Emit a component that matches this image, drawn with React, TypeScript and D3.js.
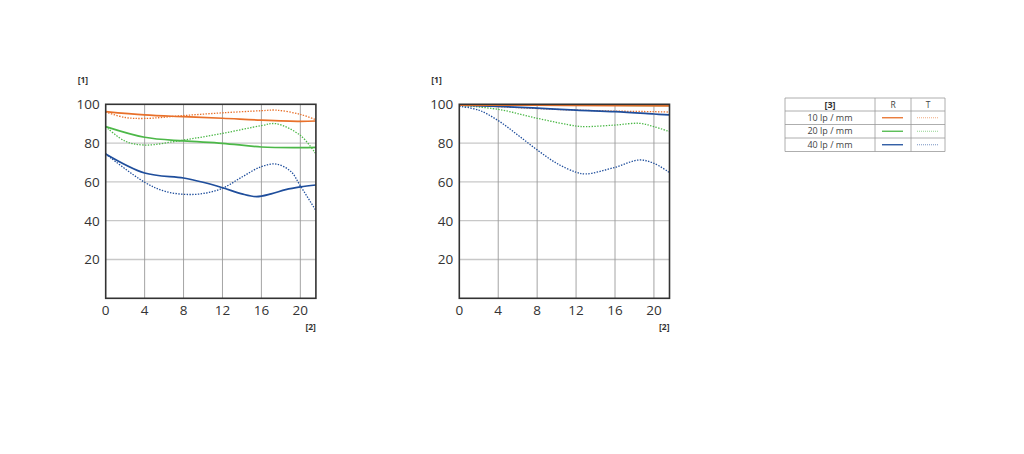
import React from 'react';
import * as d3 from 'd3';

type Pt = [number, number];

// left chart (wide open)
const leftR10: Pt[] = [[0, 96.2], [4, 94.5], [8, 93.6], [12, 92.8], [16, 91.8], [20, 91.2], [21.6, 91.4]];
const leftT10: Pt[] = [[0, 96], [2, 93.2], [4, 92.7], [8, 94.2], [12, 95.6], [16, 96.7], [17.5, 97], [20, 94.8], [21.6, 92]];
const leftR20: Pt[] = [[0, 88.5], [4, 83], [8, 81.1], [12, 79.9], [16, 78], [20, 77.7], [21.6, 77.8]];
const leftT20: Pt[] = [[0, 88.5], [2, 81], [4, 79], [8, 81.6], [12, 85], [16, 89], [17.5, 90], [20, 84], [21.6, 74.4]];
const leftR40: Pt[] = [[0, 74.4], [4, 64.6], [8, 62], [10, 59.8], [12, 57], [14, 53.8], [15.5, 52.4], [17, 53.8], [18.5, 56], [20, 57.4], [21.6, 58.4]];
const leftT40: Pt[] = [[0, 74.4], [4, 59.8], [6, 55.3], [8, 53.6], [10, 54], [12, 56.7], [14, 62.5], [16, 67.9], [17.5, 69.2], [19, 65.5], [20, 58], [21.6, 45.2]];

// right chart (stopped down)
const rightR10: Pt[] = [[0, 99.6], [8, 99.5], [16, 99.3], [21.6, 99.2]];
const rightT10: Pt[] = [[0, 99.5], [4, 98.8], [8, 97.8], [12, 97], [16, 96.5], [20, 96.2], [21.6, 96]];
const rightR20: Pt[] = [[0, 99.7], [8, 99.6], [16, 99.5], [21.6, 99.4]];
const rightT20: Pt[] = [[0, 99.5], [4, 97.4], [8, 92.8], [12, 88.8], [13, 88.5], [16, 89.3], [18.5, 90.2], [20, 88.5], [21.6, 85.9]];
const rightR40: Pt[] = [[0, 99.5], [4, 98.9], [8, 98], [12, 97], [16, 96.2], [20, 95], [21.6, 94.5]];
const rightT40: Pt[] = [[0, 99], [2, 97], [4, 91.6], [6, 84.2], [8, 76.5], [10, 69.6], [12, 65], [13, 64.1], [16, 67.5], [18.5, 71.3], [20, 69.6], [21.6, 64.8]];

const xTicks = [0, 4, 8, 12, 16, 20];
const yTicks = [20, 40, 60, 80, 100];
const legendRows = ['10 lp / mm', '20 lp / mm', '40 lp / mm'];

const ORANGE = '#e8702a';
const GREEN = '#4cb848';
const BLUE = '#1f4e9c';
const colors = [ORANGE, GREEN, BLUE];
const FONT = '"Open Sans", "DejaVu Sans", sans-serif';

// series given as [R10, T10, R20, T20, R40, T40]; dotted (T) drawn first, solids on top
const drawOrder = [5, 3, 1, 4, 2, 0];

const Chart: React.FC<{ left: number; series: Pt[][] }> = ({ left, series }) => {
  const x = d3.scaleLinear().domain([0, 21.6]).range([left, left + 210.2]);
  const y = d3.scaleLinear().domain([0, 100]).range([298.3, 104.3]);
  const line = d3
    .line<Pt>()
    .x((d) => x(d[0]))
    .y((d) => y(d[1]))
    .curve(d3.curveCatmullRom.alpha(0.5));

  return (
    <g>
      {yTicks.slice(0, -1).map((t) => (
        <line key={'h' + t} x1={x(0)} x2={x(21.6)} y1={y(t)} y2={y(t)} stroke="#c8c8c8" strokeWidth={1.3} />
      ))}
      {xTicks.slice(1).map((t) => (
        <line key={'v' + t} x1={x(t)} x2={x(t)} y1={y(0)} y2={y(100)} stroke="#9a9a9a" strokeWidth={0.9} />
      ))}
      {drawOrder.map((i) => {
        const c = colors[Math.floor(i / 2)];
        const dotted = i % 2 === 1;
        return (
          <path
            key={i}
            d={line(series[i]) || ''}
            fill="none"
            stroke={c}
            strokeWidth={dotted ? 1.3 : 1.7}
            strokeDasharray={dotted ? '1.4,1.4' : undefined}
          />
        );
      })}
      <rect x={x(0)} y={y(100)} width={x(21.6) - x(0)} height={y(0) - y(100)} fill="none" stroke="#333" strokeWidth={1.6} />
      {yTicks.map((t) => (
        <text key={'yl' + t} x={x(0) - 6} y={y(t)} dy="0.36em" textAnchor="end" fontSize={13.5} fill="#333" fontFamily={FONT}>
          {t}
        </text>
      ))}
      {xTicks.map((t) => (
        <text key={'xl' + t} x={x(t)} y={315} textAnchor="middle" fontSize={13.5} fill="#333" fontFamily={FONT}>
          {t}
        </text>
      ))}
      <text x={left - 28} y={83} fontSize={8.5} fontWeight="bold" fill="#333" fontFamily={FONT}>
        [1]
      </text>
      <text x={x(21.6)} y={330} textAnchor="end" fontSize={8.5} fontWeight="bold" fill="#333" fontFamily={FONT}>
        [2]
      </text>
    </g>
  );
};

const Legend: React.FC = () => {
  const cols = [785, 875, 911, 945];
  const rows = [98, 111, 124.5, 138, 151.5];
  return (
    <g fontFamily={FONT} fill="#444">
      {rows.map((r, i) => (
        <line key={'r' + i} x1={cols[0]} x2={cols[3]} y1={r} y2={r} stroke="#999" strokeWidth={0.8} />
      ))}
      {cols.map((c, i) => (
        <line key={'c' + i} x1={c} x2={c} y1={rows[0]} y2={rows[4]} stroke="#999" strokeWidth={0.8} />
      ))}
      <text x={(cols[0] + cols[1]) / 2} y={(rows[0] + rows[1]) / 2} dy="0.36em" textAnchor="middle" fontSize={9} fontWeight="bold" fill="#333">
        [3]
      </text>
      <text x={(cols[1] + cols[2]) / 2} y={(rows[0] + rows[1]) / 2} dy="0.36em" textAnchor="middle" fontSize={8.5}>
        R
      </text>
      <text x={(cols[2] + cols[3]) / 2} y={(rows[0] + rows[1]) / 2} dy="0.36em" textAnchor="middle" fontSize={8.5}>
        T
      </text>
      {legendRows.map((lab, i) => {
        const cy = (rows[i + 1] + rows[i + 2]) / 2;
        return (
          <g key={lab}>
            <text x={(cols[0] + cols[1]) / 2} y={cy} dy="0.36em" textAnchor="middle" fontSize={9}>
              {lab}
            </text>
            <line x1={882} x2={903} y1={cy} y2={cy} stroke={colors[i]} strokeWidth={1.3} />
            <line x1={917} x2={939} y1={cy} y2={cy} stroke={colors[i]} strokeWidth={1} strokeDasharray="1,1" opacity={0.6} />
          </g>
        );
      })}
    </g>
  );
};

export default function App() {
  return (
    <svg width={1024} height={454} style={{ position: 'absolute', left: 0, top: 0, background: '#fff' }}>
      <rect width={1024} height={454} fill="#fff" />
      <Chart left={105.7} series={[leftR10, leftT10, leftR20, leftT20, leftR40, leftT40]} />
      <Chart left={459.3} series={[rightR10, rightT10, rightR20, rightT20, rightR40, rightT40]} />
      <Legend />
    </svg>
  );
}
